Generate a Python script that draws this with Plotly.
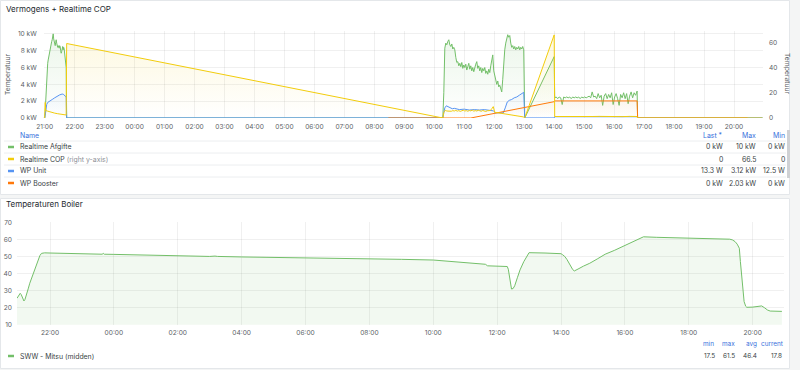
import plotly.graph_objects as go
from datetime import datetime, timedelta

# ---------------- data ----------------
# times "HH:MM"; anything earlier than 20:58 belongs to the next day
GREEN_EVE_START = "21:00"          # 1-minute samples
GREEN_EVE = [0, 0.8, 2.2, 3.8, 5.2, 5.9, 6.5, 6.9, 7.3, 7.1, 7.6, 8.1, 8.5, 8.9, 9.1,
             9.3, 9.6, 10.0, 9.4, 9.1, 8.8, 8.6, 9.0, 9.3, 8.9, 8.7, 8.4, 8.6, 8.5, 8.3,
             8.6, 8.5, 8.0, 7.7, 7.9, 8.4, 8.5, 8.1, 8.4, 8.2, 7.6, 6.9, 6.3, 6.0, 0]
GREEN_MORNING_START = "10:19"      # 2-minute samples
GREEN_MORNING = [3.0, 8.3, 8.9, 8.7, 9.1, 9.3, 8.7, 8.5, 8.8, 8.2, 8.4, 8.1, 7.2, 6.6, 6.7,
                 6.2, 6.5, 6.1, 6.6, 5.9, 6.3, 6.0, 6.4, 5.7, 6.1, 6.5, 5.8, 6.2, 5.6, 6.0,
                 5.5, 6.1, 6.4, 6.7, 5.9, 6.2, 5.6, 6.0, 5.4, 5.9, 5.6, 6.0, 5.3, 5.6, 5.2,
                 5.8, 5.4, 6.2, 6.8, 7.5, 5.6, 4.9, 4.6, 4.0, 4.4, 3.7, 3.9, 3.3, 3.1, 4.6,
                 6.8, 8.1, 8.9, 9.4, 9.9, 9.6, 9.8, 8.9, 8.4, 8.6, 8.2, 8.5, 8.1, 8.4, 8.2,
                 8.5, 8.1, 8.4, 8.2, 8.5, 8.1]
GREEN_AFTERNOON_START = "14:01"    # 3-minute samples
GREEN_AFTERNOON = [2.4, 2.5, 2.3, 2.5, 2.4, 1.6, 2.5, 2.4, 2.5, 2.4, 2.5, 2.3, 2.5, 2.4,
                   2.5, 2.4, 2.5, 2.3, 2.5, 2.4, 2.5, 2.4, 2.5, 2.6, 2.4, 3.1, 2.5, 2.6,
                   2.3, 2.9, 2.4, 2.7, 1.5, 2.6, 2.9, 2.3, 2.8, 2.4, 3.0, 1.6, 2.5, 2.9,
                   2.3, 1.5, 2.8, 2.4, 3.0, 2.3, 2.9, 1.7, 2.6, 3.1, 2.4, 3.0, 2.7, 3.2]
GREEN_POINTS_T = ["20:58", "10:17", "13:01", "14:00", "16:47", "20:57"]
GREEN_POINTS_V = [0, 0, 0, 7.3, 0, 0]

COP_EVE_T = ["20:58", "21:00", "21:01", "21:02", "21:05", "21:10", "21:15", "21:20",
             "21:25", "21:30", "21:35", "21:40", "21:43", "21:44", "10:17"]
COP_EVE = [0, 0, 12.5, 6.0, 5.6, 4.9, 4.3, 3.9, 3.5, 3.1, 2.8, 2.5, 2.4, 59.6, 0]
COP_MORNING_START = "10:19"        # 3-minute samples
COP_MORNING = [4.5, 6.2, 5.6, 5.5, 5.8, 5.4, 5.9, 5.6, 6.1, 5.5, 5.9, 5.3, 5.8, 6.2, 5.6,
               5.9, 5.4, 6.0, 5.7, 6.3, 5.5, 5.9, 5.6, 6.2, 5.8, 5.4, 6.0, 5.5, 5.2, 5.8,
               5.6, 6.0, 7.4, 9.1, 4.6, 4.4, 4.1, 4.2, 3.9, 3.8, 3.3, 3.0, 2.8, 2.5, 2.4,
               2.1, 1.9, 1.8, 1.6, 1.4, 1.3, 1.2, 1.0, 0.9]
COP_LATE_T = ["13:01", "14:00", "14:01", "14:16", "14:31", "14:46", "15:01", "15:16",
              "15:31", "15:46", "16:01", "16:16", "16:31", "16:46", "16:47", "20:57"]
COP_LATE = [0, 66.5, 1.2, 1.1, 1.3, 1.2, 1.0, 1.2, 1.3, 1.1, 1.2, 1.1, 1.3, 1.2, 0, 0]

UNIT_T = ["20:58", "21:00", "21:01", "21:02", "21:03", "21:04", "21:06", "21:08", "21:10",
          "21:15", "21:20", "21:25", "21:30", "21:35", "21:38", "21:41", "21:43", "21:44",
          "10:17", "10:19", "10:21", "10:24", "10:28", "10:32", "10:36", "10:40", "10:50",
          "11:00", "11:10", "11:20", "11:30", "11:40", "11:50", "11:58", "12:02", "12:10",
          "12:18", "12:22", "12:26", "12:30", "12:35", "12:40", "12:45", "12:50", "12:55",
          "12:59", "13:01", "14:00", "14:01", "16:46", "16:47", "20:57"]
UNIT_V = [0, 0, 0.3, 0.95, 1.3, 1.6, 1.85, 1.95, 2.0, 2.2, 2.4, 2.6, 2.75, 2.85, 2.8, 2.6,
          2.5, 0.01, 0.01, 0.6, 1.2, 1.45, 1.35, 1.2, 1.1, 1.15, 1.0, 1.05, 0.95, 1.0, 0.95,
          1.0, 0.9, 0.85, 0.62, 0.58, 0.6, 1.2, 1.9, 2.1, 2.2, 2.4, 2.5, 2.7, 2.9, 3.05,
          0.01, 0.01, 0.15, 0.15, 0.013, 0.013]

BOOSTER_T = ["08:28", "11:13", "14:00", "14:01", "16:46", "16:47", "20:27"]
BOOSTER_V = [0, 0, 1.94, 2.03, 2.03, 0, 0]

BOILER_T = ["20:58", "21:01", "21:04", "21:06", "21:08", "21:11", "21:13", "21:16", "21:19",
            "21:22", "21:29", "21:36", "21:41", "21:44", "21:50", "22:00", "22:30", "23:00",
            "23:38", "23:40", "23:42", "00:00", "01:00", "02:00", "03:00", "03:10", "03:15",
            "04:00", "04:50", "05:00", "05:10", "06:00", "07:00", "08:00", "09:00", "10:00",
            "10:48", "10:52", "11:38", "11:42", "12:19", "12:21", "12:24", "12:27", "12:30",
            "12:33", "12:38", "12:43", "12:50", "12:55", "13:00", "13:30", "14:00", "14:03",
            "14:07", "14:11", "14:15", "14:18", "14:22", "14:25", "14:29", "14:32", "14:42",
            "14:54", "15:08", "15:23", "15:40", "16:04", "16:20", "16:35", "17:00", "17:30",
            "17:59", "18:00", "18:03", "18:30", "19:00", "19:17", "19:22", "19:27", "19:31",
            "19:35", "19:37", "19:39", "19:41", "19:44", "19:47", "19:49", "20:00", "20:10",
            "20:17", "20:22", "20:28", "20:33", "20:55"]
BOILER_V = [25.5, 27.0, 28.4, 27.6, 26.3, 23.9, 24.8, 27.4, 31.0, 34.3, 40.1, 46.9, 50.5,
            51.8, 52.1, 52.0, 51.8, 51.6, 51.3, 51.8, 51.3, 51.2, 50.7, 50.3, 50.0, 50.2,
            50.0, 49.7, 49.5, 49.6, 49.4, 49.1, 48.9, 48.7, 48.3, 47.9, 46.8, 46.3, 45.4,
            44.5, 44.1, 42.5, 37.2, 30.9, 31.2, 32.8, 37.5, 42.1, 46.9, 49.8, 52.2, 52.0,
            51.6, 51.0, 50.0, 48.3, 46.2, 44.0, 42.3, 41.5, 42.0, 42.6, 44.3, 46.0, 48.5,
            51.3, 53.5, 57.1, 59.2, 61.5, 61.2, 60.9, 60.6, 61.0, 60.6, 60.4, 60.3, 60.1,
            59.7, 58.7, 57.2, 54.8, 47.0, 39.1, 31.0, 23.5, 20.8, 20.2, 20.3, 20.5, 21.0,
            20.0, 18.6, 18.0, 17.8]

TOP_LEGEND = [("Realtime Afgifte", "", "0 kW", "10 kW", "0 kW"),
              ("Realtime COP", " (right y-axis)", "0", "66.5", "0"),
              ("WP Unit", "", "13.3 W", "3.12 kW", "12.5 W"),
              ("WP Booster", "", "0 kW", "2.03 kW", "0 kW")]
BOTTOM_LEGEND = ("SWW - Mitsu (midden)", "17.5", "61.5", "46.4", "17.8")

# ---------------- helpers ----------------
BASE = datetime(2023, 1, 14)


def T(s):
    hh, mm = map(int, s.split(":"))
    day = 1 if hh * 60 + mm < 20 * 60 + 58 else 0
    return BASE + timedelta(days=day, hours=hh, minutes=mm)


def seq(start, step, values):
    t0 = T(start)
    return [t0 + timedelta(minutes=step * i) for i in range(len(values))]


def merge(pairs):
    pairs = sorted(pairs, key=lambda p: p[0])
    return [p[0] for p in pairs], [p[1] for p in pairs]


GREEN = "#73BF69"
YELLOW = "#F2CC0C"
BLUE = "#5794F2"
ORANGE = "#FF780A"
FONT = "Inter"
W, H = 800, 370

gx, gy = merge(list(zip(seq(GREEN_EVE_START, 1, GREEN_EVE), GREEN_EVE))
               + list(zip(seq(GREEN_MORNING_START, 2, GREEN_MORNING), GREEN_MORNING))
               + list(zip(seq(GREEN_AFTERNOON_START, 3, GREEN_AFTERNOON), GREEN_AFTERNOON))
               + list(zip([T(t) for t in GREEN_POINTS_T], GREEN_POINTS_V)))
cx, cy = merge(list(zip([T(t) for t in COP_EVE_T], COP_EVE))
               + list(zip(seq(COP_MORNING_START, 3, COP_MORNING), COP_MORNING))
               + list(zip([T(t) for t in COP_LATE_T], COP_LATE)))
ux, uy = [T(t) for t in UNIT_T], UNIT_V
bx, by = [T(t) for t in BOOSTER_T], BOOSTER_V
tx, ty = [T(t) for t in BOILER_T], BOILER_V


def grad(hexc, a0, a1):
    r, g, b = int(hexc[1:3], 16), int(hexc[3:5], 16), int(hexc[5:7], 16)
    return dict(type="vertical",
                colorscale=[[0, f"rgba({r},{g},{b},{a0})"], [1, f"rgba({r},{g},{b},{a1})"]])


fig = go.Figure()
fig.add_trace(go.Scatter(x=gx, y=gy, mode="lines", line=dict(color=GREEN, width=1),
                         fill="tozeroy", fillgradient=grad(GREEN, 0.0, 0.14),
                         xaxis="x", yaxis="y"))
fig.add_trace(go.Scatter(x=cx, y=cy, mode="lines", line=dict(color=YELLOW, width=1),
                         fill="tozeroy", fillgradient=grad(YELLOW, 0.0, 0.13),
                         xaxis="x", yaxis="y2"))
fig.add_trace(go.Scatter(x=ux, y=uy, mode="lines", line=dict(color=BLUE, width=1),
                         fill="tozeroy", fillgradient=grad(BLUE, 0.0, 0.07),
                         xaxis="x", yaxis="y"))
fig.add_trace(go.Scatter(x=bx, y=by, mode="lines", line=dict(color=ORANGE, width=1),
                         fill="tozeroy", fillgradient=grad(ORANGE, 0.0, 0.06),
                         xaxis="x", yaxis="y"))
fig.add_trace(go.Scatter(x=tx, y=ty, mode="lines", line=dict(color=GREEN, width=1),
                         fill="tozeroy", fillcolor="rgba(115,191,105,0.09)",
                         xaxis="x2", yaxis="y3"))

GRID = "rgba(36,41,46,0.07)"
TICKF = dict(family=FONT, size=6.6, color="#5b5f66")

fig.update_layout(
    width=W, height=H, margin=dict(l=0, r=0, t=0, b=0, pad=0, autoexpand=False),
    paper_bgcolor="#f4f5f5", plot_bgcolor="rgba(0,0,0,0)", showlegend=False,
    xaxis=dict(domain=[43.7 / W, 763 / W], type="date",
               range=[T("20:58"), T("20:58") + timedelta(days=1)],
               tick0=T("21:00"), dtick=3600000, tickformat="%H:%M",
               showgrid=True, gridcolor=GRID, zeroline=False, showline=False,
               tickfont=TICKF, ticks="", anchor="y", ticklabelstandoff=3,
               automargin=False),
    yaxis=dict(domain=[1 - 118 / H, 1 - 30.5 / H], range=[0, 10.4],
               tickvals=[0, 2, 4, 6, 8, 10], ticktext=[f"{v} kW" for v in [0, 2, 4, 6, 8, 10]],
               showgrid=True, gridcolor=GRID, zeroline=False, tickfont=TICKF, ticks="",
               anchor="x", ticklabelstandoff=6, automargin=False),
    yaxis2=dict(overlaying="y", side="right", range=[0, 70], tickvals=[0, 20, 40, 60],
                showgrid=False, zeroline=False, tickfont=TICKF, ticks="", anchor="x",
                ticklabelstandoff=5, automargin=False),
    xaxis2=dict(domain=[17 / W, 783.5 / W], type="date",
                range=[T("20:58"), T("20:58") + timedelta(days=1)],
                tick0=T("22:00"), dtick=7200000, tickformat="%H:%M",
                showgrid=True, gridcolor=GRID, zeroline=False, showline=False,
                tickfont=TICKF, ticks="", anchor="y3", ticklabelstandoff=3,
                automargin=False),
    yaxis3=dict(domain=[1 - 324.7 / H, 1 - 222.3 / H], range=[10, 70],
                tickvals=[10, 20, 30, 40, 50, 60, 70], showgrid=True, gridcolor=GRID,
                zeroline=False, tickfont=TICKF, ticks="", anchor="x2", ticklabelstandoff=4,
                automargin=False),
)

shapes = []


def rect(x0, y0, x1, y1, fill, line="rgba(0,0,0,0)", layer="below", lw=1):
    shapes.append(dict(type="rect", xref="paper", yref="paper", x0=x0 / W, x1=x1 / W,
                       y0=1 - y1 / H, y1=1 - y0 / H, fillcolor=fill,
                       line=dict(color=line, width=lw), layer=layer))


def hline(x0, x1, y, color, width=1, layer="above"):
    shapes.append(dict(type="line", xref="paper", yref="paper", x0=x0 / W, x1=x1 / W,
                       y0=1 - y / H, y1=1 - y / H, line=dict(color=color, width=width),
                       layer=layer))


rect(0.5, 0.5, 789.5, 194.5, "#ffffff", "#e4e7ea")
rect(0.5, 198.5, 789.5, 368.5, "#ffffff", "#e4e7ea")
# scrollbar of legend table
rect(787, 130, 790, 178, "#cfd1d4", layer="above")

ann = []


def txt(x, y, s, size=6.9, color="#3a3f45", anchor="left", angle=0):
    ann.append(dict(x=x / W, y=1 - y / H, xref="paper", yref="paper", text=s,
                    showarrow=False, xanchor=anchor if angle == 0 else "center",
                    yanchor="middle", textangle=angle, borderpad=0,
                    font=dict(family=FONT, size=size, color=color)))


txt(5, 9, "Vermogens + Realtime COP", size=8, color="#24292e")
txt(5, 204, "Temperaturen Boiler", size=8, color="#24292e")
txt(8, 74, "Temperatuur", size=6.8, color="#5b5f66", angle=-90)
txt(787, 74, "Temperatuur", size=6.8, color="#5b5f66", angle=90)

LINK = "#3871dc"
txt(19, 135, "Name", color=LINK)
txt(724, 135, "Last *", color=LINK, anchor="right")
txt(757, 135, "Max", color=LINK, anchor="right")
txt(786, 135, "Min", color=LINK, anchor="right")
colors = [GREEN, YELLOW, BLUE, ORANGE]
for i, (name, extra, last, mx, mn) in enumerate(TOP_LEGEND):
    y = 147 + 12 * i
    hline(4, 786, y - 6, "#eceef0")
    hline(8, 14, y, colors[i], width=2.5)
    label = name + (f"<span style='color:#8e9197'>{extra}</span>" if extra else "")
    txt(19, y, label)
    txt(724, y, last, anchor="right")
    txt(757, y, mx, anchor="right")
    txt(786, y, mn, anchor="right")

name, vmin, vmax, vavg, vcur = BOTTOM_LEGEND
LS = 6.4
txt(715, 344, "min", size=LS, color=LINK, anchor="right")
txt(736, 344, "max", size=LS, color=LINK, anchor="right")
txt(758, 344, "avg", size=LS, color=LINK, anchor="right")
txt(784, 344, "current", size=LS, color=LINK, anchor="right")
hline(8, 14, 356, GREEN, width=2.5)
txt(19, 356, name)
txt(716, 356, vmin, size=LS, anchor="right")
txt(736, 356, vmax, size=LS, anchor="right")
txt(758, 356, vavg, size=LS, anchor="right")
txt(783, 356, vcur, size=LS, anchor="right")

fig.update_layout(shapes=shapes, annotations=ann)
fig.write_html("out.html", config={"displayModeBar": False},
               post_script="document.body.style.margin='0';")
